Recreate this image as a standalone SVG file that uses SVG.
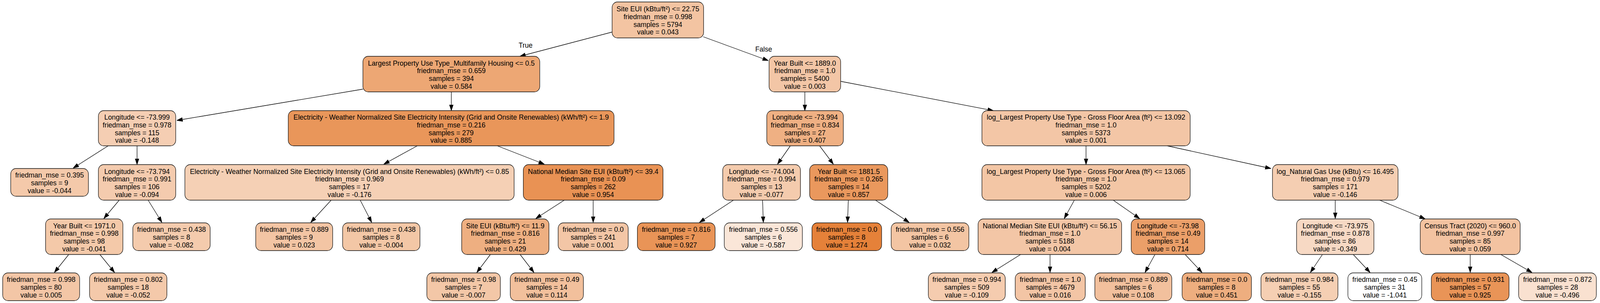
<svg xmlns="http://www.w3.org/2000/svg" width="4175" height="775" viewBox="0 0 4175 775">
<style>
.n rect{stroke:#111;stroke-width:1.3}
text{font-family:"Liberation Sans",Arial,Helvetica,sans-serif;font-size:18px;text-anchor:middle;fill:#000}
.e line{stroke:#000;stroke-width:1.3;marker-end:url(#ah)}
</style>
<defs>
<marker id="ah" markerUnits="userSpaceOnUse" markerWidth="15" markerHeight="11" viewBox="0 0 15 11" refX="15" refY="5.5" orient="auto">
<path d="M0,0.5 L15,5.5 L0,10.5 z" fill="#000" stroke="#000" stroke-width="1"/>
</marker>
</defs>
<rect width="4175" height="775" fill="#fff"/>
<g id="diagram" transform="scale(0.98 1)">
<g id="edges" class="e">
<line x1="1599" y1="82" x2="1358" y2="144"/>
<line x1="1837" y1="94" x2="2007" y2="155"/>
<line x1="948" y1="228" x2="462" y2="308"/>
<line x1="1179" y1="235" x2="1179" y2="283"/>
<line x1="282.6" y1="373" x2="191" y2="430"/>
<line x1="358" y1="373" x2="358" y2="421"/>
<line x1="311.4" y1="512" x2="271.2" y2="559"/>
<line x1="387" y1="512" x2="423" y2="569"/>
<line x1="179.5" y1="651" x2="142" y2="697"/>
<line x1="261" y1="651" x2="299.3" y2="697"/>
<line x1="1090" y1="373" x2="1002.5" y2="420"/>
<line x1="1299" y1="373" x2="1422" y2="420"/>
<line x1="865" y1="512" x2="811.6" y2="569"/>
<line x1="941" y1="512" x2="971" y2="569"/>
<line x1="1474" y1="512" x2="1399.6" y2="559"/>
<line x1="1549.5" y1="512" x2="1549.5" y2="569"/>
<line x1="1281" y1="651" x2="1245.5" y2="697"/>
<line x1="1358.7" y1="651" x2="1394.9" y2="697"/>
<line x1="2102.5" y1="235" x2="2102.5" y2="283"/>
<line x1="2196" y1="208" x2="2595" y2="283"/>
<line x1="2064.5" y1="373" x2="2031" y2="420"/>
<line x1="2141" y1="373" x2="2177" y2="420"/>
<line x1="1916" y1="512" x2="1827" y2="569"/>
<line x1="1992" y1="512" x2="1994" y2="569"/>
<line x1="2216" y1="512" x2="2214" y2="569"/>
<line x1="2287" y1="512" x2="2375" y2="569"/>
<line x1="2837" y1="373" x2="2837" y2="421"/>
<line x1="3049" y1="373" x2="3320" y2="431"/>
<line x1="2806.5" y1="512" x2="2780" y2="559"/>
<line x1="2908" y1="512" x2="2977" y2="559"/>
<line x1="2666" y1="651" x2="2591" y2="697"/>
<line x1="2743" y1="651" x2="2743" y2="697"/>
<line x1="3017" y1="651" x2="2991" y2="697"/>
<line x1="3096" y1="651" x2="3140" y2="697"/>
<line x1="3488" y1="512" x2="3488" y2="559"/>
<line x1="3604" y1="512" x2="3723" y2="560"/>
<line x1="3454.5" y1="651" x2="3423" y2="697"/>
<line x1="3535" y1="651" x2="3579" y2="697"/>
<line x1="3840.5" y1="651" x2="3840.5" y2="697"/>
<line x1="3920.6" y1="651" x2="4002" y2="697"/>
</g>
<g id="edge-labels">
<text x="1373" y="122">True</text>
<text x="1995" y="132">False</text>
</g>
<g id="n0" class="n"><rect x="1599" y="5" width="239" height="92" rx="14" fill="#f3c4a2"/>
<text x="1718.5" y="29.2">Site EUI (kBtu/ft²) &lt;= 22.75</text><text x="1718.5" y="48.9">friedman_mse = 0.998</text><text x="1718.5" y="68.6">samples = 5794</text><text x="1718.5" y="88.3">value = 0.043</text></g>
<g id="n1" class="n"><rect x="948" y="144" width="462" height="91" rx="14" fill="#eda774"/>
<text x="1179" y="167.7">Largest Property Use Type_Multifamily Housing &lt;= 0.5</text><text x="1179" y="187.4">friedman_mse = 0.659</text><text x="1179" y="207.1">samples = 394</text><text x="1179" y="226.8">value = 0.584</text></g>
<g id="n18" class="n"><rect x="2009" y="144" width="187" height="91" rx="14" fill="#f3c6a6"/>
<text x="2102.5" y="167.7">Year Built &lt;= 1889.0</text><text x="2102.5" y="187.4">friedman_mse = 1.0</text><text x="2102.5" y="207.1">samples = 5400</text><text x="2102.5" y="226.8">value = 0.003</text></g>
<g id="n2" class="n"><rect x="257" y="283" width="202" height="90" rx="14" fill="#f5ceb3"/>
<text x="358" y="306.2">Longitude &lt;= -73.999</text><text x="358" y="325.9">friedman_mse = 0.978</text><text x="358" y="345.6">samples = 115</text><text x="358" y="365.3">value = -0.148</text></g>
<g id="n9" class="n"><rect x="753" y="283" width="851" height="90" rx="14" fill="#e9965a"/>
<text x="1178.5" y="306.2">Electricity - Weather Normalized Site Electricity Intensity (Grid and Onsite Renewables) (kWh/ft²) &lt;= 1.9</text><text x="1178.5" y="325.9">friedman_mse = 0.216</text><text x="1178.5" y="345.6">samples = 279</text><text x="1178.5" y="365.3">value = 0.885</text></g>
<g id="n19" class="n"><rect x="2003" y="283" width="200" height="90" rx="14" fill="#efb083"/>
<text x="2103" y="306.2">Longitude &lt;= -73.994</text><text x="2103" y="325.9">friedman_mse = 0.834</text><text x="2103" y="345.6">samples = 27</text><text x="2103" y="365.3">value = 0.407</text></g>
<g id="n26" class="n"><rect x="2565" y="283" width="544" height="90" rx="14" fill="#f3c6a6"/>
<text x="2837" y="306.2">log_Largest Property Use Type - Gross Floor Area (ft²) &lt;= 13.092</text><text x="2837" y="325.9">friedman_mse = 1.0</text><text x="2837" y="345.6">samples = 5373</text><text x="2837" y="365.3">value = 0.001</text></g>
<g id="n3" class="n"><rect x="28" y="431" width="203" height="71" rx="14" fill="#f4c9aa"/>
<text x="129.5" y="454.5">friedman_mse = 0.395</text><text x="129.5" y="474.2">samples = 9</text><text x="129.5" y="493.9">value = -0.044</text></g>
<g id="n4" class="n"><rect x="257" y="421" width="202" height="91" rx="14" fill="#f4cbae"/>
<text x="358" y="444.7">Longitude &lt;= -73.794</text><text x="358" y="464.4">friedman_mse = 0.991</text><text x="358" y="484.1">samples = 106</text><text x="358" y="503.8">value = -0.094</text></g>
<g id="n10" class="n"><rect x="483" y="421" width="860" height="91" rx="14" fill="#f5d0b5"/>
<text x="913" y="444.7">Electricity - Weather Normalized Site Electricity Intensity (Grid and Onsite Renewables) (kWh/ft²) &lt;= 0.85</text><text x="913" y="464.4">friedman_mse = 0.969</text><text x="913" y="484.1">samples = 17</text><text x="913" y="503.8">value = -0.176</text></g>
<g id="n13" class="n"><rect x="1367" y="421" width="365" height="91" rx="14" fill="#e99254"/>
<text x="1549.5" y="444.7">National Median Site EUI (kBtu/ft²) &lt;= 39.4</text><text x="1549.5" y="464.4">friedman_mse = 0.09</text><text x="1549.5" y="484.1">samples = 262</text><text x="1549.5" y="503.8">value = 0.954</text></g>
<g id="n20" class="n"><rect x="1888" y="421" width="203" height="91" rx="14" fill="#f4cbad"/>
<text x="1989.5" y="444.7">Longitude &lt;= -74.004</text><text x="1989.5" y="464.4">friedman_mse = 0.994</text><text x="1989.5" y="484.1">samples = 13</text><text x="1989.5" y="503.8">value = -0.077</text></g>
<g id="n23" class="n"><rect x="2115" y="421" width="204" height="91" rx="14" fill="#ea985d"/>
<text x="2217" y="444.7">Year Built &lt;= 1881.5</text><text x="2217" y="464.4">friedman_mse = 0.265</text><text x="2217" y="484.1">samples = 14</text><text x="2217" y="503.8">value = 0.857</text></g>
<g id="n27" class="n"><rect x="2565" y="421" width="544" height="91" rx="14" fill="#f3c6a5"/>
<text x="2837" y="444.7">log_Largest Property Use Type - Gross Floor Area (ft²) &lt;= 13.065</text><text x="2837" y="464.4">friedman_mse = 1.0</text><text x="2837" y="484.1">samples = 5202</text><text x="2837" y="503.8">value = 0.006</text></g>
<g id="n34" class="n"><rect x="3324" y="421" width="328" height="91" rx="14" fill="#f5ceb2"/>
<text x="3488" y="444.7">log_Natural Gas Use (kBtu) &lt;= 16.495</text><text x="3488" y="464.4">friedman_mse = 0.979</text><text x="3488" y="484.1">samples = 171</text><text x="3488" y="503.8">value = -0.146</text></g>
<g id="n5" class="n"><rect x="119" y="560" width="202" height="91" rx="14" fill="#f4c9a9"/>
<text x="220" y="583.7">Year Built &lt;= 1971.0</text><text x="220" y="603.4">friedman_mse = 0.998</text><text x="220" y="623.1">samples = 98</text><text x="220" y="642.8">value = -0.041</text></g>
<g id="n8" class="n"><rect x="347" y="570" width="202" height="71" rx="14" fill="#f4cbad"/>
<text x="448" y="593.5">friedman_mse = 0.438</text><text x="448" y="613.2">samples = 8</text><text x="448" y="632.9">value = -0.082</text></g>
<g id="n11" class="n"><rect x="668" y="570" width="201" height="71" rx="14" fill="#f3c5a4"/>
<text x="768.5" y="593.5">friedman_mse = 0.889</text><text x="768.5" y="613.2">samples = 9</text><text x="768.5" y="632.9">value = 0.023</text></g>
<g id="n12" class="n"><rect x="895" y="570" width="202" height="71" rx="14" fill="#f3c7a6"/>
<text x="996" y="593.5">friedman_mse = 0.438</text><text x="996" y="613.2">samples = 8</text><text x="996" y="632.9">value = -0.004</text></g>
<g id="n14" class="n"><rect x="1206" y="560" width="228" height="91" rx="14" fill="#eeaf81"/>
<text x="1320" y="583.7">Site EUI (kBtu/ft²) &lt;= 11.9</text><text x="1320" y="603.4">friedman_mse = 0.816</text><text x="1320" y="623.1">samples = 21</text><text x="1320" y="642.8">value = 0.429</text></g>
<g id="n17" class="n"><rect x="1458" y="570" width="183" height="71" rx="14" fill="#f3c6a6"/>
<text x="1549.5" y="593.5">friedman_mse = 0.0</text><text x="1549.5" y="613.2">samples = 241</text><text x="1549.5" y="632.9">value = 0.001</text></g>
<g id="n21" class="n"><rect x="1665" y="570" width="203" height="71" rx="14" fill="#e99457"/>
<text x="1766.5" y="593.5">friedman_mse = 0.816</text><text x="1766.5" y="613.2">samples = 7</text><text x="1766.5" y="632.9">value = 0.927</text></g>
<g id="n22" class="n"><rect x="1892" y="570" width="204" height="71" rx="14" fill="#fae6d8"/>
<text x="1994" y="593.5">friedman_mse = 0.556</text><text x="1994" y="613.2">samples = 6</text><text x="1994" y="632.9">value = -0.587</text></g>
<g id="n24" class="n"><rect x="2121" y="570" width="182" height="71" rx="14" fill="#e58139"/>
<text x="2212" y="593.5">friedman_mse = 0.0</text><text x="2212" y="613.2">samples = 8</text><text x="2212" y="632.9">value = 1.274</text></g>
<g id="n25" class="n"><rect x="2328" y="570" width="203" height="71" rx="14" fill="#f3c5a3"/>
<text x="2429.5" y="593.5">friedman_mse = 0.556</text><text x="2429.5" y="613.2">samples = 6</text><text x="2429.5" y="632.9">value = 0.032</text></g>
<g id="n28" class="n"><rect x="2555" y="560" width="375" height="91" rx="14" fill="#f3c6a6"/>
<text x="2742.5" y="583.7">National Median Site EUI (kBtu/ft²) &lt;= 56.15</text><text x="2742.5" y="603.4">friedman_mse = 1.0</text><text x="2742.5" y="623.1">samples = 5188</text><text x="2742.5" y="642.8">value = 0.004</text></g>
<g id="n31" class="n"><rect x="2955" y="560" width="192" height="91" rx="14" fill="#eb9f69"/>
<text x="3051" y="583.7">Longitude &lt;= -73.98</text><text x="3051" y="603.4">friedman_mse = 0.49</text><text x="3051" y="623.1">samples = 14</text><text x="3051" y="642.8">value = 0.714</text></g>
<g id="n35" class="n"><rect x="3387" y="560" width="202" height="91" rx="14" fill="#f7d9c4"/>
<text x="3488" y="583.7">Longitude &lt;= -73.975</text><text x="3488" y="603.4">friedman_mse = 0.878</text><text x="3488" y="623.1">samples = 86</text><text x="3488" y="642.8">value = -0.349</text></g>
<g id="n38" class="n"><rect x="3710" y="560" width="261" height="91" rx="14" fill="#f3c3a1"/>
<text x="3840.5" y="583.7">Census Tract (2020) &lt;= 960.0</text><text x="3840.5" y="603.4">friedman_mse = 0.997</text><text x="3840.5" y="623.1">samples = 85</text><text x="3840.5" y="642.8">value = 0.059</text></g>
<g id="n6" class="n"><rect x="7" y="698" width="201" height="71" rx="14" fill="#f3c6a6"/>
<text x="107.5" y="721.5">friedman_mse = 0.998</text><text x="107.5" y="741.2">samples = 80</text><text x="107.5" y="760.9">value = 0.005</text></g>
<g id="n7" class="n"><rect x="234" y="698" width="202" height="71" rx="14" fill="#f4c9aa"/>
<text x="335" y="721.5">friedman_mse = 0.802</text><text x="335" y="741.2">samples = 18</text><text x="335" y="760.9">value = -0.052</text></g>
<g id="n15" class="n"><rect x="1115" y="698" width="192" height="71" rx="14" fill="#f3c7a7"/>
<text x="1211" y="721.5">friedman_mse = 0.98</text><text x="1211" y="741.2">samples = 7</text><text x="1211" y="760.9">value = -0.007</text></g>
<g id="n16" class="n"><rect x="1333" y="698" width="191" height="71" rx="14" fill="#f2c09c"/>
<text x="1428.5" y="721.5">friedman_mse = 0.49</text><text x="1428.5" y="741.2">samples = 14</text><text x="1428.5" y="760.9">value = 0.114</text></g>
<g id="n29" class="n"><rect x="2425" y="698" width="201" height="71" rx="14" fill="#f5ccaf"/>
<text x="2525.5" y="721.5">friedman_mse = 0.994</text><text x="2525.5" y="741.2">samples = 509</text><text x="2525.5" y="760.9">value = -0.109</text></g>
<g id="n30" class="n"><rect x="2652" y="698" width="183" height="71" rx="14" fill="#f3c5a5"/>
<text x="2743.5" y="721.5">friedman_mse = 1.0</text><text x="2743.5" y="741.2">samples = 4679</text><text x="2743.5" y="760.9">value = 0.016</text></g>
<g id="n32" class="n"><rect x="2860" y="698" width="201" height="71" rx="14" fill="#f2c09d"/>
<text x="2960.5" y="721.5">friedman_mse = 0.889</text><text x="2960.5" y="741.2">samples = 6</text><text x="2960.5" y="760.9">value = 0.108</text></g>
<g id="n33" class="n"><rect x="3088" y="698" width="181" height="71" rx="14" fill="#eeae7f"/>
<text x="3178.5" y="721.5">friedman_mse = 0.0</text><text x="3178.5" y="741.2">samples = 8</text><text x="3178.5" y="760.9">value = 0.451</text></g>
<g id="n36" class="n"><rect x="3294" y="698" width="201" height="71" rx="14" fill="#f5cfb3"/>
<text x="3394.5" y="721.5">friedman_mse = 0.984</text><text x="3394.5" y="741.2">samples = 55</text><text x="3394.5" y="760.9">value = -0.155</text></g>
<g id="n37" class="n"><rect x="3521" y="698" width="193" height="71" rx="14" fill="#ffffff"/>
<text x="3617.5" y="721.5">friedman_mse = 0.45</text><text x="3617.5" y="741.2">samples = 31</text><text x="3617.5" y="760.9">value = -1.041</text></g>
<g id="n39" class="n"><rect x="3739" y="698" width="203" height="71" rx="14" fill="#e99457"/>
<text x="3840.5" y="721.5">friedman_mse = 0.931</text><text x="3840.5" y="741.2">samples = 57</text><text x="3840.5" y="760.9">value = 0.925</text></g>
<g id="n40" class="n"><rect x="3967" y="698" width="203" height="71" rx="14" fill="#f9e1d0"/>
<text x="4068.5" y="721.5">friedman_mse = 0.872</text><text x="4068.5" y="741.2">samples = 28</text><text x="4068.5" y="760.9">value = -0.496</text></g>
</g>
</svg>
